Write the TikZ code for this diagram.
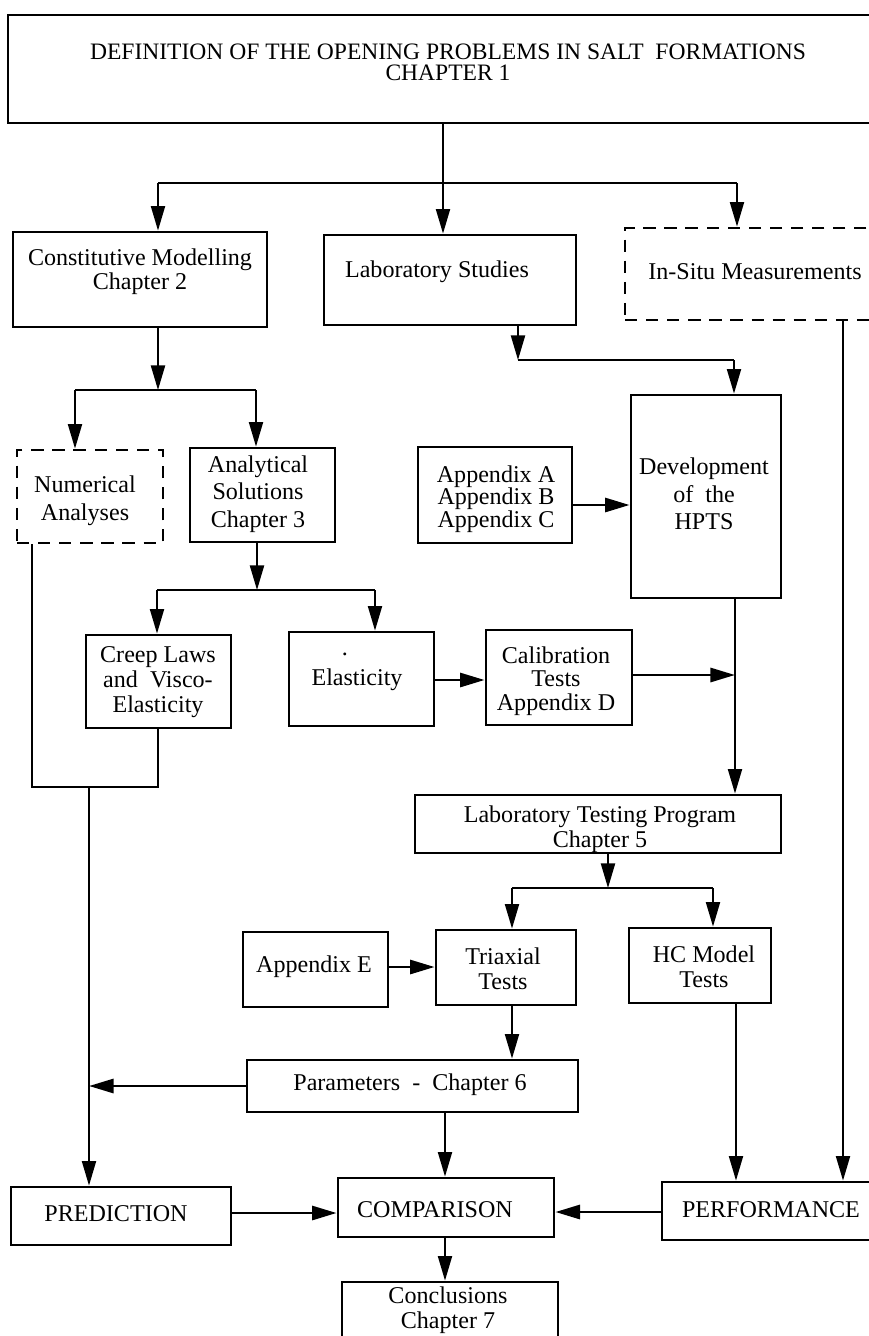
\documentclass[tikz,border=0pt]{standalone}
\usepackage{fontspec}
\setmainfont{Liberation Serif}
\usetikzlibrary{arrows.meta,fit,calc}
\begin{document}
\begin{tikzpicture}[x=0.02cm,y=-0.02cm,
 box/.style={draw, line width=1.6pt, inner sep=0pt},
 dbox/.style={box, dash pattern=on 7pt off 5pt},
 txt/.style={inner sep=0pt, align=center, font=\fontsize{13.7pt}{14.2pt}\selectfont},
 ln/.style={line width=1.1pt},
 arr/.style={ln, -{Triangle[length=14pt,width=8pt]}},
 tarr/.style={line width=1.6pt, -{Triangle[length=14pt,width=8pt]}},
]
\useasboundingbox (0,0) rectangle (869,1336);
\clip (0,0) rectangle (869,1336);

% ---------- boxes ----------
\node[box, fit={(8,15) (900,123)}] (top) {};
\node[txt, font=\fontsize{13.4pt}{12pt}\selectfont] (topt) at (448,62) {DEFINITION OF THE OPENING PROBLEMS IN SALT\ \ FORMATIONS\\CHAPTER 1};

\node[box, fit={(13,232) (267,327)}] (cm) {};
\node[txt, font=\fontsize{13.7pt}{12pt}\selectfont] (cmt) at (140,272) {Constitutive Modelling\\Chapter 2};

\node[box, fit={(324,235) (576,325)}] (lab) {};
\node[txt] (labt) at (437,272) {Laboratory Studies};

\node[dbox, fit={(625,228) (900,320)}] (insitu) {};
\node[txt] (insitut) at (755,272) {In-Situ Measurements};

\node[dbox, fit={(17,450) (163,543)}] (num) {};
\node[txt, font=\fontsize{13.7pt}{15.9pt}\selectfont] (numt) at (85,501) {Numerical\\Analyses};

\node[box, fit={(190,448) (335,542)}] (ana) {};
\node[txt, font=\fontsize{13.7pt}{15.6pt}\selectfont] (anat) at (258,494) {Analytical\\Solutions\\Chapter 3};

\node[box, fit={(418,447) (572,543)}] (appx) {};
\node[txt, font=\fontsize{13.7pt}{12.8pt}\selectfont] (appxt) at (496,499) {Appendix A\\Appendix B\\Appendix C};

\node[box, fit={(631,395) (781,598)}] (dev) {};
\node[txt, font=\fontsize{13.7pt}{15.6pt}\selectfont] (devt) at (704,494) {Development\\of\ \ the\\HPTS};

\node[box, fit={(86,635) (231,728)}] (creep) {};
\node[txt] (creept) at (158,682) {Creep Laws\\and\ \ Visco-\\Elasticity};

\node[box, fit={(289,632) (434,726)}] (elas) {};
\node[txt] (elast) at (357,680) {Elasticity};
\node[txt] (dot) at (345,654) {.};

\node[box, fit={(486,630) (632,725)}] (cal) {};
\node[txt, font=\fontsize{13.7pt}{13.4pt}\selectfont] (calt) at (556,681) {Calibration\\Tests\\Appendix D};

\node[box, fit={(415,795) (781,853)}] (ltp) {};
\node[txt] (ltpt) at (600,829) {Laboratory Testing Program\\Chapter 5};

\node[box, fit={(243,932) (388,1007)}] (appe) {};
\node[txt] (appet) at (314,967) {Appendix E};

\node[box, fit={(436,930) (576,1005)}] (tri) {};
\node[txt] (trit) at (503,969) {Triaxial\\Tests};

\node[box, fit={(629,928) (771,1003)}] (hc) {};
\node[txt] (hct) at (704,967) {HC Model\\Tests};

\node[box, fit={(247,1060) (578,1112)}] (param) {};
\node[txt] (paramt) at (410,1085) {Parameters\ \ -\ \ Chapter 6};

\node[box, fit={(11,1187) (231,1245)}] (pred) {};
\node[txt] (predt) at (116,1214) {PREDICTION};

\node[box, fit={(338,1178) (554,1237)}] (comp) {};
\node[txt] (compt) at (435,1210) {COMPARISON};

\node[box, fit={(662,1182) (900,1240)}] (perf) {};
\node[txt] (perft) at (771,1210) {PERFORMANCE};

\node[box, fit={(342,1282) (558,1345)}] (concl) {};
\node[txt] (conclt) at (448,1310) {Conclusions\\Chapter 7};

% ---------- coordinates ----------
\coordinate (b1) at (443,183);
\coordinate (b1l) at (158,183);
\coordinate (b1r) at (737,183);
\coordinate (c2) at (518,360);
\coordinate (c2r) at (734,360);
\coordinate (c3) at (158,390);
\coordinate (c3l) at (75,390);
\coordinate (c3r) at (256,390);
\coordinate (c4) at (257,590);
\coordinate (c4l) at (157,590);
\coordinate (c4r) at (375,590);
\coordinate (y505) at (0,505);
\coordinate (y680) at (0,680);
\coordinate (c5) at (735,675);
\coordinate (c6l) at (32,787);
\coordinate (c6r) at (158,787);
\coordinate (c6m) at (89,787);
\coordinate (c7) at (608,888);
\coordinate (c7l) at (512,888);
\coordinate (c7r) at (713,888);
\coordinate (y967) at (0,967);
\coordinate (c8) at (736,0);
\coordinate (y1086) at (0,1086);
\coordinate (c9) at (445,0);
\coordinate (y1213) at (0,1213);
\coordinate (y1212) at (0,1212);
\coordinate (c10) at (843,0);

% ---------- connectors ----------
\draw[ln] (top.south -| b1) -- (b1);
\draw[ln] (b1l) -- (b1r);
\draw[arr] (b1l) -- (b1l |- cm.north);
\draw[arr] (b1) -- (b1 |- lab.north);
\draw[arr] (b1r) -- (b1r |- insitu.north);

\draw[arr] (lab.south -| c2) -- (c2);
\draw[ln] (c2) -- (c2r);
\draw[arr] (c2r) -- (c2r |- dev.north);

\draw[arr] (cm.south -| c3) -- (c3);
\draw[ln] (c3l) -- (c3r);
\draw[arr] (c3l) -- (c3l |- num.north);
\draw[arr] (c3r) -- (c3r |- ana.north);

\draw[tarr] (appx.east |- y505) -- (dev.west |- y505);

\draw[arr] (ana.south -| c4) -- (c4);
\draw[ln] (c4l) -- (c4r);
\draw[arr] (c4l) -- (c4l |- creep.north);
\draw[arr] (c4r) -- (c4r |- elas.north);

\draw[tarr] (elas.east |- y680) -- (cal.west |- y680);
\draw[tarr] (cal.east |- c5) -- (c5);
\draw[arr] (dev.south -| c5) -- (c5 |- ltp.north);

\draw[ln] (num.south -| c6l) -- (c6l) -- (c6r) -- (creep.south -| c6r);
\draw[arr] (c6m) -- (c6m |- pred.north);

\draw[arr] (ltp.south -| c7) -- (c7);
\draw[ln] (c7l) -- (c7r);
\draw[arr] (c7l) -- (c7l |- tri.north);
\draw[arr] (c7r) -- (c7r |- hc.north);

\draw[tarr] (appe.east |- y967) -- (tri.west |- y967);
\draw[arr] (tri.south -| c7l) -- (c7l |- param.north);
\draw[arr] (hc.south -| c8) -- (c8 |- perf.north);
\draw[tarr] (param.west |- y1086) -- (c6m |- y1086);
\draw[arr] (param.south -| c9) -- (c9 |- comp.north);
\draw[tarr] (pred.east |- y1213) -- (comp.west |- y1213);
\draw[tarr] (perf.west |- y1212) -- (comp.east |- y1212);
\draw[arr] (comp.south -| c9) -- (c9 |- concl.north);
\draw[arr] (insitu.south -| c10) -- (c10 |- perf.north);
\end{tikzpicture}
\end{document}
